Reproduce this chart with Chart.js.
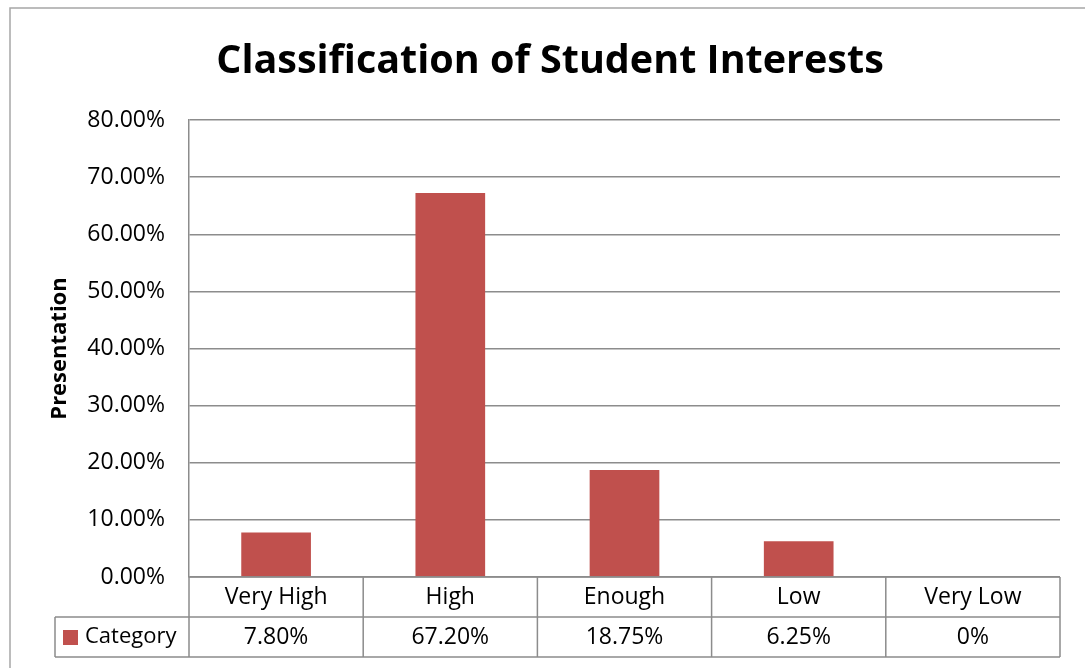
<!DOCTYPE html>
<html lang="en">
<head>
    <meta charset="UTF-8">
    <title>Classification of Student Interests</title>
    <script src="https://cdn.jsdelivr.net/npm/chart.js"></script>
    <style>
        body { margin: 0; background: #fff; }
        #wrap { width: 1085px; height: 668px; position: relative; }
    </style>
</head>
<body>
    <div id="wrap"><canvas id="chart" width="1085" height="668"></canvas></div>
    <script>
        // data
        var categories = ['Very High', 'High', 'Enough', 'Low', 'Very Low'];
        var values = [7.80, 67.20, 18.75, 6.25, 0];
        var valueLabels = ['7.80%', '67.20%', '18.75%', '6.25%', '0%'];
        var seriesName = 'Category';
        var chartTitle = 'Classification of Student Interests';

        var FONT = "'Open Sans', 'Noto Sans', sans-serif";
        var BAR = '#C0504D';
        var LINE = '#8c8c8c';

        // frame, title and data table under the plot
        var tablePlugin = {
            id: 'dataTable',
            beforeDraw: function (chart) {
                var c = chart.ctx;
                c.save();
                c.strokeStyle = '#a6a6a6';
                c.lineWidth = 1.5;
                c.beginPath();
                c.moveTo(10, 668); c.lineTo(10, 8); c.lineTo(1085, 8);
                c.stroke();
                // title is centred on the whole chart frame, not the plot
                c.fillStyle = '#000';
                c.font = 'bold 39.5px ' + FONT;
                c.textAlign = 'center';
                c.textBaseline = 'middle';
                c.fillText(chartTitle, 550, 62);
                c.restore();
            },
            afterDraw: function (chart) {
                var c = chart.ctx;
                var x = chart.scales.x;
                var area = chart.chartArea;
                var rowH = 40;
                var top = area.bottom, mid = top + rowH, bot = mid + rowH;
                var step = (area.right - area.left) / categories.length;
                c.save();
                c.strokeStyle = LINE;
                c.lineWidth = 1.5;
                c.beginPath();
                c.moveTo(area.left, top); c.lineTo(area.right, top);
                c.moveTo(55, mid); c.lineTo(area.right, mid);
                c.moveTo(55, bot); c.lineTo(area.right, bot);
                c.moveTo(55, mid); c.lineTo(55, bot);
                for (var i = 0; i <= categories.length; i++) {
                    var lx = area.left + i * step;
                    c.moveTo(lx, top); c.lineTo(lx, bot);
                }
                c.stroke();

                c.fillStyle = '#000';
                c.font = '23px ' + FONT;
                c.textAlign = 'center';
                c.textBaseline = 'middle';
                categories.forEach(function (cat, i) {
                    var cx = x.getPixelForValue(i);
                    c.fillText(cat, cx, top + rowH / 2);
                    c.fillText(valueLabels[i], cx, mid + rowH / 2);
                });
                // legend key
                c.fillStyle = BAR;
                c.fillRect(63, 630, 15, 15);
                c.fillStyle = '#000';
                c.textAlign = 'left';
                c.font = '22px ' + FONT;
                c.fillText(seriesName, 85, mid + rowH / 2);
                c.restore();
            }
        };

        new Chart(document.getElementById('chart'), {
            type: 'bar',
            data: {
                labels: categories,
                datasets: [{
                    label: seriesName,
                    data: values,
                    backgroundColor: BAR,
                    barPercentage: 0.4,
                    categoryPercentage: 1
                }]
            },
            options: {
                responsive: false,
                animation: false,
                layout: { padding: { top: 120, right: 25, left: 0, bottom: 0 } },
                plugins: {
                    legend: { display: false },
                    tooltip: { enabled: false },
                    title: { display: false }
                },
                scales: {
                    x: {
                        ticks: { display: false },
                        grid: { display: false },
                        border: { display: false },
                        afterFit: function (s) { s.height = 91; }
                    },
                    y: {
                        min: 0,
                        max: 80,
                        ticks: {
                            stepSize: 10,
                            color: '#000',
                            padding: 24,
                            font: { family: FONT, size: 23 },
                            callback: function (v) { return v.toFixed(2) + '%'; }
                        },
                        grid: { color: LINE, lineWidth: 1.5, drawTicks: false },
                        border: { display: true, color: LINE, width: 1.5 },
                        title: {
                            display: true,
                            text: 'Presentation',
                            color: '#000',
                            font: { family: FONT, size: 22, weight: 'bold' },
                            padding: { top: 47, bottom: 0 }
                        },
                        afterFit: function (s) { s.width = 189; }
                    }
                }
            },
            plugins: [tablePlugin]
        });
    </script>
</body>
</html>
